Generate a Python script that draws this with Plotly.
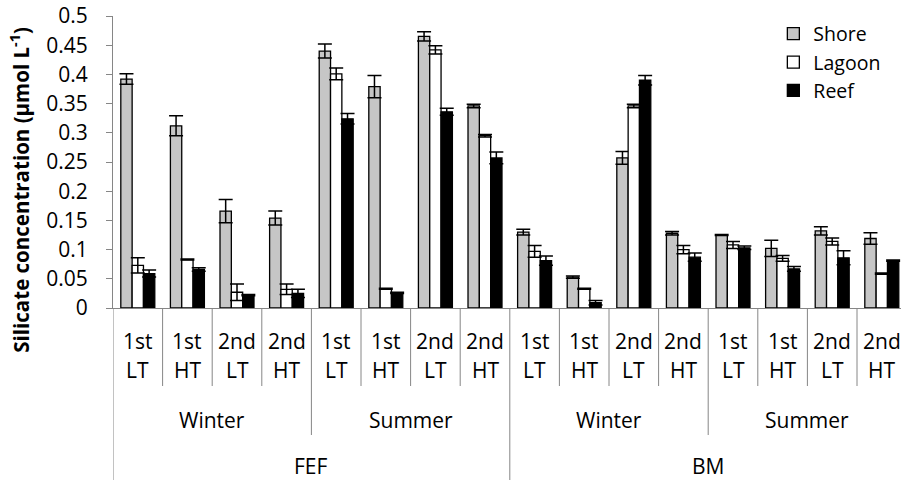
import plotly.graph_objects as go

# ---- data ----
row1_labels = ["1st", "1st", "2nd", "2nd"] * 4
row2_labels = ["LT", "HT", "LT", "HT"] * 4
season_labels = ["Winter", "Summer", "Winter", "Summer"]
site_labels = ["FEF", "BM"]

shore = [0.392, 0.312, 0.166, 0.154, 0.440, 0.379, 0.465, 0.346,
         0.130, 0.053, 0.257, 0.128, 0.125, 0.102, 0.132, 0.119]
shore_err = [0.009, 0.017, 0.020, 0.012, 0.012, 0.019, 0.008, 0.003,
             0.005, 0.002, 0.011, 0.003, 0.001, 0.014, 0.007, 0.010]
lagoon = [0.073, 0.083, 0.027, 0.032, 0.401, 0.033, 0.442, 0.295,
          0.097, 0.033, 0.346, 0.100, 0.108, 0.085, 0.114, 0.059]
lagoon_err = [0.013, 0.001, 0.014, 0.009, 0.010, 0.001, 0.007, 0.002,
              0.010, 0.001, 0.003, 0.007, 0.006, 0.005, 0.006, 0.001]
reef = [0.059, 0.066, 0.022, 0.025, 0.324, 0.026, 0.336, 0.257,
        0.081, 0.009, 0.390, 0.087, 0.103, 0.067, 0.086, 0.081]
reef_err = [0.006, 0.003, 0.001, 0.007, 0.009, 0.001, 0.006, 0.010,
            0.008, 0.004, 0.008, 0.007, 0.003, 0.004, 0.012, 0.001]

y_ticks = [0, 0.05, 0.1, 0.15, 0.2, 0.25, 0.3, 0.35, 0.4, 0.45, 0.5]
y_tick_text = ["0", "0.05", "0.1", "0.15", "0.2", "0.25", "0.3", "0.35",
               "0.4", "0.45", "0.5"]

FONT = "Open Sans"
AXIS_GRAY = "#868686"
n = len(row1_labels)
x = list(range(n))

fig = go.Figure()
series = [("Shore", shore, shore_err, "#C6C6C6"),
          ("Lagoon", lagoon, lagoon_err, "#FFFFFF"),
          ("Reef", reef, reef_err, "#000000")]
for name, vals, errs, col in series:
    fig.add_trace(go.Bar(
        name=name, x=x, y=vals,
        marker=dict(color=col, line=dict(color="black", width=1.3)),
        error_y=dict(type="data", array=errs, visible=True,
                     color="black", thickness=1.5, width=7),
    ))

# category separators below the axis
shapes = []
for b in range(n + 1):
    if b in (0, 8):
        length = 172
    elif b in (4, 12):
        length = 127
    else:
        length = 78
    shapes.append(dict(type="line", xref="x", yref="paper",
                       x0=b - 0.5, x1=b - 0.5,
                       ysizemode="pixel", yanchor=0, y0=0, y1=-length,
                       line=dict(color=AXIS_GRAY, width=1)))

lab_font = dict(family=FONT, size=21, color="black")
annotations = []
for i in range(n):
    annotations.append(dict(x=i, y=0, xref="x", yref="y", text=row1_labels[i],
                            showarrow=False, yanchor="middle", yshift=-33.4,
                            font=lab_font))
    annotations.append(dict(x=i, y=0, xref="x", yref="y", text=row2_labels[i],
                            showarrow=False, yanchor="middle", yshift=-62.4,
                            font=lab_font))
for s, lab in enumerate(season_labels):
    annotations.append(dict(x=s * 4 + 1.5, y=0, xref="x", yref="y", text=lab,
                            showarrow=False, yanchor="middle", yshift=-111.7,
                            font=lab_font))
for s, lab in enumerate(site_labels):
    annotations.append(dict(x=s * 8 + 3.5, y=0, xref="x", yref="y", text=lab,
                            showarrow=False, yanchor="middle", yshift=-157.5,
                            font=lab_font))
annotations.append(dict(x=0, y=0.405, xref="paper", yref="paper", xshift=-93,
                        text="<b>Silicate concentration (µmol L<sup>-1</sup>)</b>",
                        textangle=-90, showarrow=False,
                        xanchor="center", yanchor="middle",
                        font=dict(family=FONT, size=20.5, color="black")))

fig.update_layout(
    width=901, height=480,
    margin=dict(l=113, r=0, t=16, b=172, pad=0),
    paper_bgcolor="white", plot_bgcolor="white",
    barmode="group", bargap=0.315, bargroupgap=0,
    font=dict(family=FONT, size=21, color="black"),
    showlegend=True,
    legend=dict(x=0.838, y=1.005, xanchor="left", yanchor="top",
                bgcolor="rgba(0,0,0,0)", font=dict(family=FONT, size=19.5),
                tracegroupgap=0),
    shapes=shapes,
    annotations=annotations,
    xaxis=dict(range=[-0.5, -0.5 + 788 / 49.6], showticklabels=False,
               showgrid=False, zeroline=False, ticks="",
               showline=True, linecolor=AXIS_GRAY, linewidth=1),
    yaxis=dict(range=[0, 0.5], tickvals=y_ticks, ticktext=y_tick_text,
               showgrid=False, zeroline=False, ticks="outside", ticklen=6,
               tickcolor=AXIS_GRAY, showline=True, linecolor=AXIS_GRAY,
               linewidth=1, ticklabelstandoff=14,
               tickfont=dict(family=FONT, size=21, color="black")),
)

fig.write_html("out.html")
